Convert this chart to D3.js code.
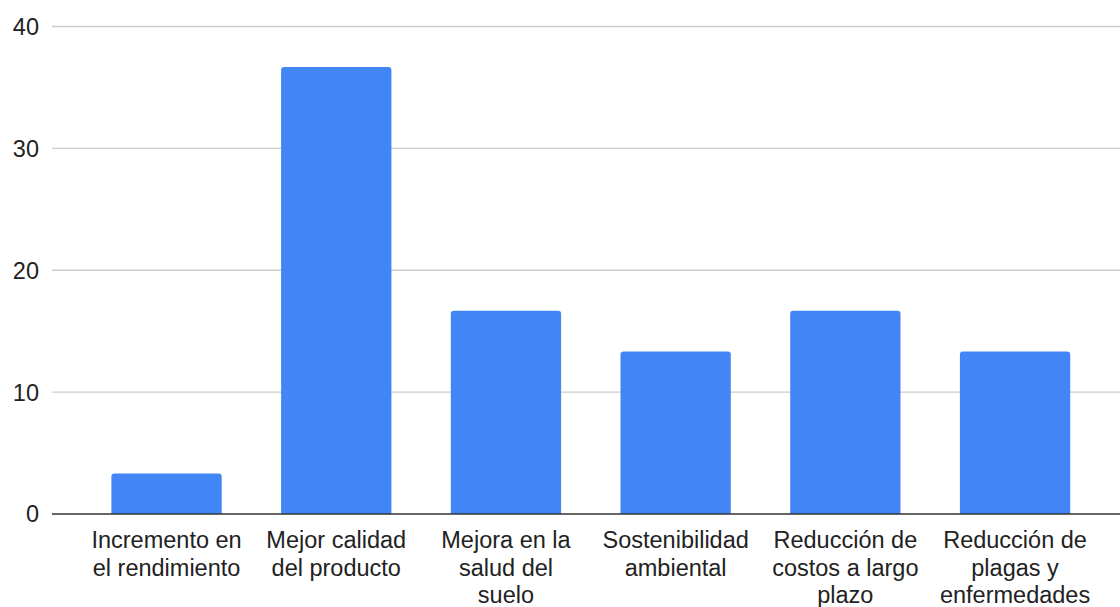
<!DOCTYPE html>
<html>
<head>
<meta charset="utf-8">
<script src="https://cdn.jsdelivr.net/npm/d3@7"></script>
<style>
  html, body { margin: 0; padding: 0; background: #fff; }
  svg { display: block; }
  text { font-family: "Liberation Sans", Arial, sans-serif; fill: #222; }
</style>
</head>
<body>
<svg id="chart" width="1120" height="607"></svg>
<script>
// Categories and values
const categories = [
  "Incremento en el rendimiento",
  "Mejor calidad del producto",
  "Mejora en la salud del suelo",
  "Sostenibilidad ambiental",
  "Reducción de costos a largo plazo",
  "Reducción de plagas y enfermedades"
];
const values = [3.33, 36.67, 16.67, 13.33, 16.67, 13.33];
const yTicks = [0, 10, 20, 30, 40];

const W = 1120, H = 607;
const fontSize = 23.5;
const lineHeight = 27.5;

const svg = d3.select("#chart");

const x = d3.scaleBand()
  .domain(categories)
  .range([52, 1129.6])
  .paddingInner(0.35)
  .paddingOuter(0.35);

const y = d3.scaleLinear()
  .domain([0, 40])
  .range([514, 26.5]);

// Horizontal gridlines
svg.append("g")
  .selectAll("line")
  .data(yTicks.filter(d => d !== 0))
  .join("line")
  .attr("x1", x.range()[0])
  .attr("x2", x.range()[1])
  .attr("y1", d => y(d))
  .attr("y2", d => y(d))
  .attr("stroke", "#cccccc")
  .attr("stroke-width", 1.4);

// Y tick labels
svg.append("g")
  .selectAll("text")
  .data(yTicks)
  .join("text")
  .attr("x", 39)
  .attr("y", d => y(d))
  .attr("dy", "0.36em")
  .attr("text-anchor", "end")
  .style("font-size", fontSize + "px")
  .text(d => d);

// Bars with slightly rounded top corners
const r = 3;
svg.append("g")
  .selectAll("path")
  .data(categories.map((c, i) => ({ c, v: values[i] })))
  .join("path")
  .attr("fill", "#4285f4")
  .attr("d", d => {
    const x0 = x(d.c), x1 = x0 + x.bandwidth();
    const y0 = y(0), y1 = y(d.v);
    return `M${x0},${y0} L${x0},${y1 + r} Q${x0},${y1} ${x0 + r},${y1} ` +
           `L${x1 - r},${y1} Q${x1},${y1} ${x1},${y1 + r} L${x1},${y0} Z`;
  });

// Baseline axis
svg.append("line")
  .attr("x1", x.range()[0])
  .attr("x2", x.range()[1])
  .attr("y1", y(0))
  .attr("y2", y(0))
  .attr("stroke", "#333")
  .attr("stroke-width", 1.6);

// Category labels, wrapped to fit under each bar
const maxLabelWidth = fontSize * 6.55;
const labels = svg.append("g")
  .selectAll("text")
  .data(categories)
  .join("text")
  .attr("text-anchor", "middle")
  .style("font-size", fontSize + "px")
  .attr("transform", d => `translate(${x(d) + x.bandwidth() / 2},${y(0) + 34})`);

labels.each(function(d) {
  const t = d3.select(this);
  const words = d.split(" ");
  let lines = [], cur = [];
  const probe = t.append("tspan");
  words.forEach(w => {
    const trial = cur.concat([w]).join(" ");
    probe.text(trial);
    if (cur.length && probe.node().getComputedTextLength() > maxLabelWidth) {
      lines.push(cur.join(" "));
      cur = [w];
    } else {
      cur.push(w);
    }
  });
  if (cur.length) lines.push(cur.join(" "));
  probe.remove();
  lines.forEach((ln, i) => {
    t.append("tspan").attr("x", 0).attr("y", i * lineHeight).text(ln);
  });
});
</script>
</body>
</html>
